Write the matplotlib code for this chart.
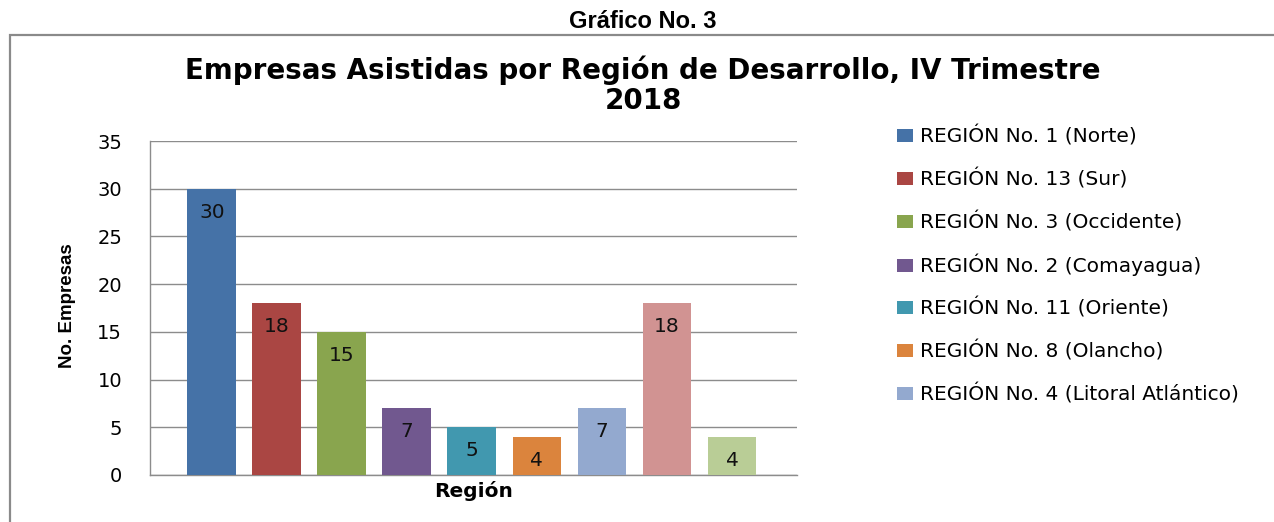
import numpy as np
import matplotlib.pyplot as plt
from matplotlib.patches import Rectangle

regiones = ['REGIÓN No. 1 (Norte)', 'REGIÓN No. 13 (Sur)', 'REGIÓN No. 3 (Occidente)',
            'REGIÓN No. 2 (Comayagua)', 'REGIÓN No. 11 (Oriente)', 'REGIÓN No. 8 (Olancho)',
            'REGIÓN No. 4 (Litoral Atlántico)', 'REGIÓN No. 6', 'REGIÓN No. 7']
empresas = [30, 18, 15, 7, 5, 4, 7, 18, 4]
colores = ['#4572A7', '#AA4643', '#89A54E', '#71588F', '#4198AF', '#DB843D',
           '#93A9CF', '#D19392', '#B9CD96']
nb_legende = 7

fig = plt.figure(figsize=(12.74, 5.22), dpi=100)
W, H = 1274, 522

# cadre gris
fig.patches.append(Rectangle((10 / W, -0.05), 1.1, 1 - 35 / H + 0.05, transform=fig.transFigure,
                             fill=False, edgecolor='#8a8a8a', linewidth=1.6))

fig.text(643 / W, 1 - 22 / H, 'Gráfico No. 3', ha='center', va='center',
         fontsize=17, fontweight='bold', family='Liberation Sans')
fig.text(643 / W, 1 - 70 / H, 'Empresas Asistidas por Región de Desarrollo, IV Trimestre',
         ha='center', va='center', fontsize=20, fontweight='bold')
fig.text(643 / W, 1 - 101 / H, '2018', ha='center', va='center', fontsize=20, fontweight='bold')

ax = fig.add_axes([150 / W, 1 - 475 / H, (797 - 150) / W, (475 - 141) / H])
x = np.arange(len(empresas))
barres = ax.bar(x, empresas, width=0.75, color=colores, zorder=3)

for xi, v in zip(x, empresas):
    ax.annotate(str(v), (xi, v), xytext=(0, -17), textcoords='offset points',
                ha='center', va='center', fontsize=14.5, color='#111111', zorder=4)

ax.set_xlim(-0.95, 9.0)
ax.set_ylim(0, 35)
ax.set_yticks(range(0, 36, 5))
ax.set_xticks([])
ax.yaxis.grid(True, color='#8c8c8c', linewidth=1.0, zorder=0)
ax.tick_params(axis='y', length=0, pad=20, labelsize=14)
for s in ['top', 'right']:
    ax.spines[s].set_visible(False)
for s in ['left', 'bottom']:
    ax.spines[s].set_color('#8c8c8c')
    ax.spines[s].set_linewidth(1.0)

ax.set_xlabel('Región', fontsize=14.5, fontweight='bold', labelpad=4)
fig.text(67 / W, 1 - 306 / H, 'No. Empresas', rotation=90, ha='center', va='center',
         fontsize=13.5, fontweight='bold', family='Liberation Sans')

# une légende par ligne pour garder un pas régulier
for i in range(nb_legende):
    fig.legend([barres[i]], [regiones[i]], loc='center left',
               bbox_to_anchor=(887 / W, 1 - (136 + 43 * i) / H), frameon=False, fontsize=14.5,
               handlelength=0.8, handleheight=0.6, handletextpad=0.35, borderpad=0)

fig.savefig('out.png', dpi=100)
